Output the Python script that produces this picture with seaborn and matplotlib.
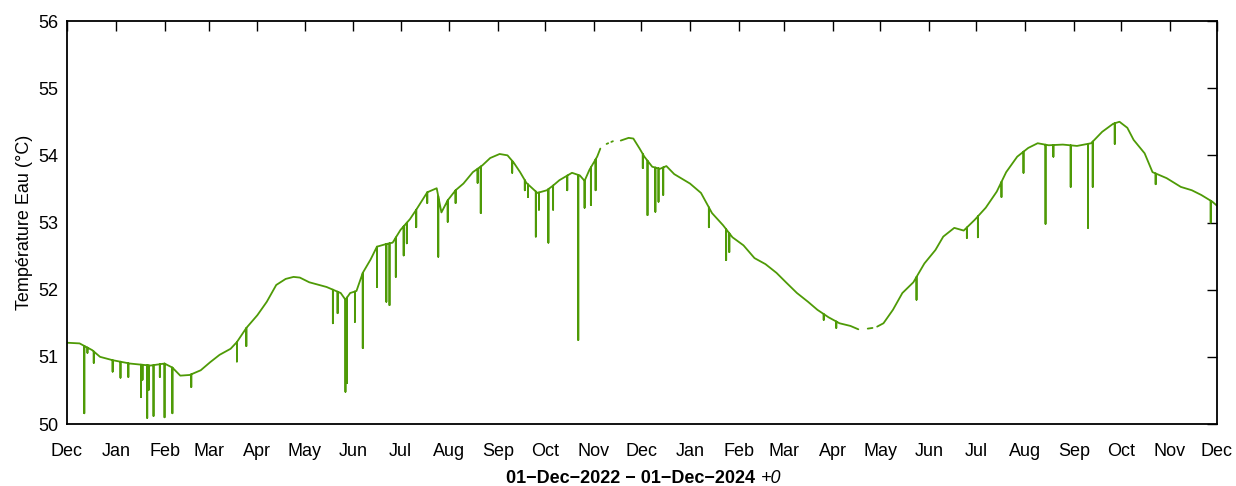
import numpy as np
import pandas as pd
import matplotlib
matplotlib.use("Agg")
import matplotlib.pyplot as plt
import matplotlib.dates as mdates
import seaborn as sns

# ---------------- data ----------------
start_date = "2022-12-01"
end_date = "2024-12-01"

# baseline water temperature, days since 01-Dec-2022 (NaN = missing data)
base_days = [0, 8, 16, 21, 29, 40, 53, 62, 67, 72, 78, 85, 91, 97, 104, 108, 114, 121,
             127, 133, 139, 144, 148, 154, 165, 174, 177, 180, 184, 188, 193, 197, 203,
             207, 212, 218, 222, 229, 235, 238, 242, 247, 252, 258, 264, 269, 275, 280,
             284, 288, 292, 299, 305, 309, 313, 321, 326, 329, 332, 337, 339, 341, 343,
             344, 345, 346, 347, 349, 352, 357, 360, 364, 367, 372, 377, 381, 386, 396,
             403, 410, 417, 423, 430, 437, 444, 451, 457, 464, 471, 477, 484, 491, 498,
             503, 505, 509, 512, 513, 515, 519, 525, 531, 538, 545, 552, 557, 564, 570,
             577, 584, 591, 597, 604, 611, 617, 624, 633, 642, 651, 658, 665, 669, 674,
             678, 685, 690, 699, 708, 715, 721, 728, 731]
base_vals = [51.21, 51.20, 51.10, 51.00, 50.95, 50.90, 50.87, 50.90, 50.84, 50.72, 50.73,
             50.80, 50.92, 51.03, 51.12, 51.22, 51.43, 51.62, 51.82, 52.07, 52.16, 52.19,
             52.18, 52.11, 52.04, 51.95, 51.85, 51.95, 51.98, 52.25, 52.45, 52.64, 52.68,
             52.70, 52.89, 53.05, 53.19, 53.45, 53.51, 53.15, 53.33, 53.48, 53.58, 53.75,
             53.85, 53.96, 54.02, 54.00, 53.89, 53.75, 53.59, 53.44, 53.48, 53.55, 53.63,
             53.74, 53.70, 53.62, 53.78, 53.98, 54.10, np.nan, 54.17, 54.18, np.nan, 54.20,
             54.21, np.nan, 54.22, 54.26, 54.25, 54.10, 53.98, 53.83, 53.80, 53.84, 53.72,
             53.58, 53.44, 53.14, 52.96, 52.78, 52.66, 52.47, 52.38, 52.25, 52.11, 51.95,
             51.82, 51.70, 51.59, 51.50, 51.46, 51.41, np.nan, 51.42, 51.43, np.nan, 51.45,
             51.50, 51.70, 51.95, 52.11, 52.39, 52.59, 52.79, 52.92, 52.88, 53.04, 53.22,
             53.46, 53.75, 53.98, 54.11, 54.18, 54.15, 54.16, 54.14, 54.18, 54.35, 54.47,
             54.50, 54.41, 54.23, 54.03, 53.75, 53.66, 53.53, 53.48, 53.41, 53.31, 53.25]

# short downward drops (day, lowest value reached)
dip_days = [11, 13, 17, 29, 34, 39, 47, 48, 51, 52, 55, 59, 62, 67, 79, 108, 114, 169,
            172, 177, 178, 183, 188, 197, 203, 205, 209, 214, 216, 222, 229, 236, 242,
            247, 261, 263, 283, 291, 293, 298, 300, 306, 309, 318, 325, 329, 333, 336,
            366, 369, 374, 376, 379, 408, 419, 421, 481, 489, 540, 572, 579, 594, 608,
            622, 627, 638, 649, 652, 666, 692, 727]
dip_vals = [50.16, 51.06, 50.91, 50.78, 50.69, 50.70, 50.40, 50.66, 50.09, 50.51, 50.12,
            50.70, 50.10, 50.16, 50.55, 50.93, 51.16, 51.50, 51.65, 50.48, 50.61, 51.52,
            51.13, 52.04, 51.82, 51.77, 52.19, 52.51, 52.69, 52.93, 53.29, 52.49, 53.01,
            53.29, 53.59, 53.14, 53.74, 53.48, 53.38, 52.79, 53.19, 52.70, 53.19, 53.48,
            51.25, 53.22, 53.26, 53.48, 53.81, 53.11, 53.16, 53.31, 53.41, 52.93, 52.44,
            52.56, 51.55, 51.43, 51.85, 52.77, 52.78, 53.38, 53.74, 52.98, 53.98, 53.53,
            52.92, 53.53, 54.17, 53.57, 53.00]

y_ticks = [50, 51, 52, 53, 54, 55, 56]
y_label = "Température Eau (°C)"
x_label_main = "01\u2212Dec\u22122022 \u2212 01\u2212Dec\u22122024"
x_label_suffix = "+0"

# ---------------- build line table ----------------
bd = np.array(base_days, dtype=float)
bv = np.array(base_vals, dtype=float)
ok = ~np.isnan(bv)
dips = sorted(zip(dip_days, dip_vals))

rows = []
seg = 0
di = 0
for d, v in zip(bd, bv):
    while di < len(dips) and dips[di][0] < d:
        dd, dv = dips[di]
        top = float(np.interp(dd, bd[ok], bv[ok]))
        rows += [(dd, top, seg), (dd, dv, seg), (dd, top, seg)]
        di += 1
    if np.isnan(v):
        seg += 1
        continue
    rows.append((d, v, seg))
while di < len(dips):
    dd, dv = dips[di]
    top = float(np.interp(dd, bd[ok], bv[ok]))
    rows += [(dd, top, seg), (dd, dv, seg), (dd, top, seg)]
    di += 1

df = pd.DataFrame(rows, columns=["day", "temp", "seg"])
df["date"] = pd.Timestamp(start_date) + pd.to_timedelta(df["day"], unit="D")

# ---------------- plot ----------------
sns.set_style("white")
plt.rcParams["font.family"] = ["Liberation Sans", "DejaVu Sans"]
plt.rcParams["axes.linewidth"] = 1.3
plt.rcParams["text.color"] = "black"
plt.rcParams["axes.labelcolor"] = "black"
plt.rcParams["xtick.color"] = "black"
plt.rcParams["ytick.color"] = "black"

fig = plt.figure(figsize=(12.36, 4.86), dpi=100)
ax = fig.add_axes([67 / 1236, 1 - 424 / 486, (1217 - 67) / 1236, (424 - 21) / 486])

sns.lineplot(data=df, x="date", y="temp", units="seg", estimator=None, sort=False,
             color="#4e9a06", linewidth=1.3, ax=ax, legend=False)

ax.set_xlim(pd.Timestamp(start_date), pd.Timestamp(end_date))
ax.set_ylim(y_ticks[0], y_ticks[-1])
ax.set_yticks(y_ticks)
ax.xaxis.set_major_locator(mdates.MonthLocator())
ax.xaxis.set_major_formatter(mdates.DateFormatter("%b"))

for s in ax.spines.values():
    s.set_visible(True)
    s.set_color("black")
    s.set_linewidth(1.3)

ax.tick_params(axis="both", which="major", direction="in", length=7.5, width=1.0,
               top=True, right=True, labelsize=13, colors="black")
ax.tick_params(axis="x", pad=14)
ax.tick_params(axis="y", pad=6)

ax.set_ylabel(y_label, fontsize=13, labelpad=4, color="black")
ax.set_xlabel("")

t = fig.text(0.51, 1 - 478 / 486, x_label_main, fontsize=13, fontweight="bold",
             ha="center", va="center", color="black")
ax.annotate(x_label_suffix, xy=(1, 0), xycoords=t, xytext=(4, 0),
            textcoords="offset points", fontsize=13, fontstyle="italic",
            ha="left", va="bottom", color="black")

fig.savefig("out.png", dpi=100)
